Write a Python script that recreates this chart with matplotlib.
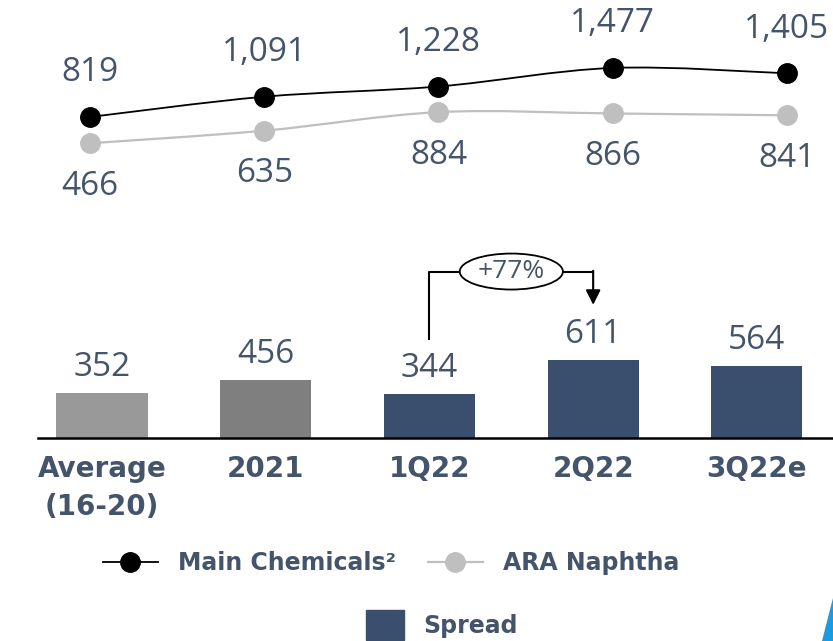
import numpy as np
import matplotlib
matplotlib.use("Agg")
import matplotlib.pyplot as plt
from matplotlib.path import Path
from matplotlib.patches import PathPatch, Ellipse, Polygon, Patch
from matplotlib.lines import Line2D

categories = ["Average\n(16-20)", "2021", "1Q22", "2Q22", "3Q22e"]
main_chemicals = [819, 1091, 1228, 1477, 1405]
ara_naphtha = [466, 635, 884, 866, 841]
spread = [352, 456, 344, 611, 564]
bar_colors = ["#999999", "#7f7f7f", "#3a4e6e", "#3a4e6e", "#3a4e6e"]
growth_label = "+77%"

TEXT = "#44546a"
plt.rcParams["font.family"] = ["Open Sans", "DejaVu Sans"]

W, H = 833, 641
fig = plt.figure(figsize=(W / 100, H / 100), dpi=100)

x = np.arange(len(categories))


def smooth(xs, ys):
    # Catmull-Rom style bezier through the points (like a "smoothed line" in Excel)
    pts = np.column_stack([xs, ys]).astype(float)
    verts, codes = [pts[0]], [Path.MOVETO]
    n = len(pts)
    for i in range(n - 1):
        p0 = pts[i - 1] if i > 0 else pts[i]
        p1, p2 = pts[i], pts[i + 1]
        p3 = pts[i + 2] if i + 2 < n else p2
        verts += [p1 + (p2 - p0) / 6, p2 - (p3 - p1) / 6, p2]
        codes += [Path.CURVE4] * 3
    return Path(verts, codes)


# --- prices (lines) ---
ax_top = fig.add_axes([38 / W, 1 - 230 / H, 795 / W, 230 / H])
ax_top.set_xlim(-0.298, 4.264)
ax_top.set_ylim(-698, 2389)
ax_top.axis("off")

for vals, color, lw, off in [(main_chemicals, "black", 1.3, 44),
                             (ara_naphtha, "#bfbfbf", 1.6, -43)]:
    ax_top.add_patch(PathPatch(smooth(x, vals), fill=False, ec=color, lw=lw))
    ax_top.plot(x, vals, "o", ms=14, color=color, zorder=3)
    for xi, v in zip(x, vals):
        ax_top.annotate(f"{v:,}", (xi, v), xytext=(0, off), textcoords="offset pixels",
                        ha="center", va="center", fontsize=24, color=TEXT)

# --- spread (bars) ---
ax_bar = fig.add_axes([38 / W, 1 - 438 / H, 795 / W, 200 / H])
ax_bar.set_xlim(-0.391, 4.465)
ax_bar.set_ylim(0, 1562)
ax_bar.bar(x, spread, width=0.556, color=bar_colors)
for xi, v in zip(x, spread):
    ax_bar.annotate(f"{v:,}", (xi, v), xytext=(0, 25), textcoords="offset pixels",
                    ha="center", va="center", fontsize=24, color=TEXT)
ax_bar.axhline(0, color="black", lw=1.8, clip_on=False)
for s in ax_bar.spines.values():
    s.set_visible(False)
ax_bar.set_yticks([])
ax_bar.set_xticks(x, categories)
for lab in ax_bar.get_xticklabels():
    lab.set_fontfamily("DejaVu Sans")
    lab.set_fontweight("bold")
    lab.set_fontsize(20)
    lab.set_color(TEXT)
    lab.set_linespacing(1.45)
ax_bar.tick_params(axis="x", length=0, pad=12)

# growth bracket 1Q22 -> 2Q22
x_left, x_right = x[2], x[3]
y_start, y_top, y_tip = 770, 1300, 1040
x_mid = (x_left + x_right) / 2
ell_w, ell_h = 0.63, 281
ax_bar.plot([x_left, x_left, x_mid - ell_w / 2], [y_start, y_top, y_top],
            color="black", lw=1.5, clip_on=False)
ax_bar.plot([x_mid + ell_w / 2, x_right], [y_top, y_top], color="black", lw=1.5, clip_on=False)
ax_bar.annotate("", xy=(x_right, y_tip), xytext=(x_right, y_top + 6),
                arrowprops=dict(arrowstyle="-|>", color="black", lw=1.5, mutation_scale=22,
                                shrinkA=0, shrinkB=0))
ax_bar.add_patch(Ellipse((x_mid, y_top), ell_w, ell_h, fc="white", ec="black", lw=1.3,
                         clip_on=False, zorder=3))
ax_bar.text(x_mid, y_top, growth_label, ha="center", va="center", fontsize=19,
            color=TEXT, zorder=4)

# --- legends ---
line_handles = [Line2D([], [], color="black", marker="o", ms=14, lw=1.3),
                Line2D([], [], color="#bfbfbf", marker="o", ms=14, lw=1.6)]
leg_font = dict(family="DejaVu Sans", weight="bold", size=17)
fig.legend(line_handles, ["Main Chemicals²", "ARA Naphtha"], loc="center",
           bbox_to_anchor=(391 / W, 1 - 563 / H), ncol=2, frameon=False,
           prop=leg_font, labelcolor=TEXT, handlelength=2.33,
           handletextpad=0.85, columnspacing=1.36)
fig.legend([Patch(color="#3a4e6e")], ["Spread"], loc="center",
           bbox_to_anchor=(442 / W, 1 - 625 / H), frameon=False, prop=leg_font,
           labelcolor=TEXT, handlelength=1.6, handleheight=1.6, handletextpad=0.85)

# corner of the logo
fig.patches.append(Polygon([[822 / W, 0], [1, 43 / H], [1, 0]], closed=True,
                           transform=fig.transFigure, fc="#1b9be0", ec="none"))

fig.savefig("out.png", dpi=100)
